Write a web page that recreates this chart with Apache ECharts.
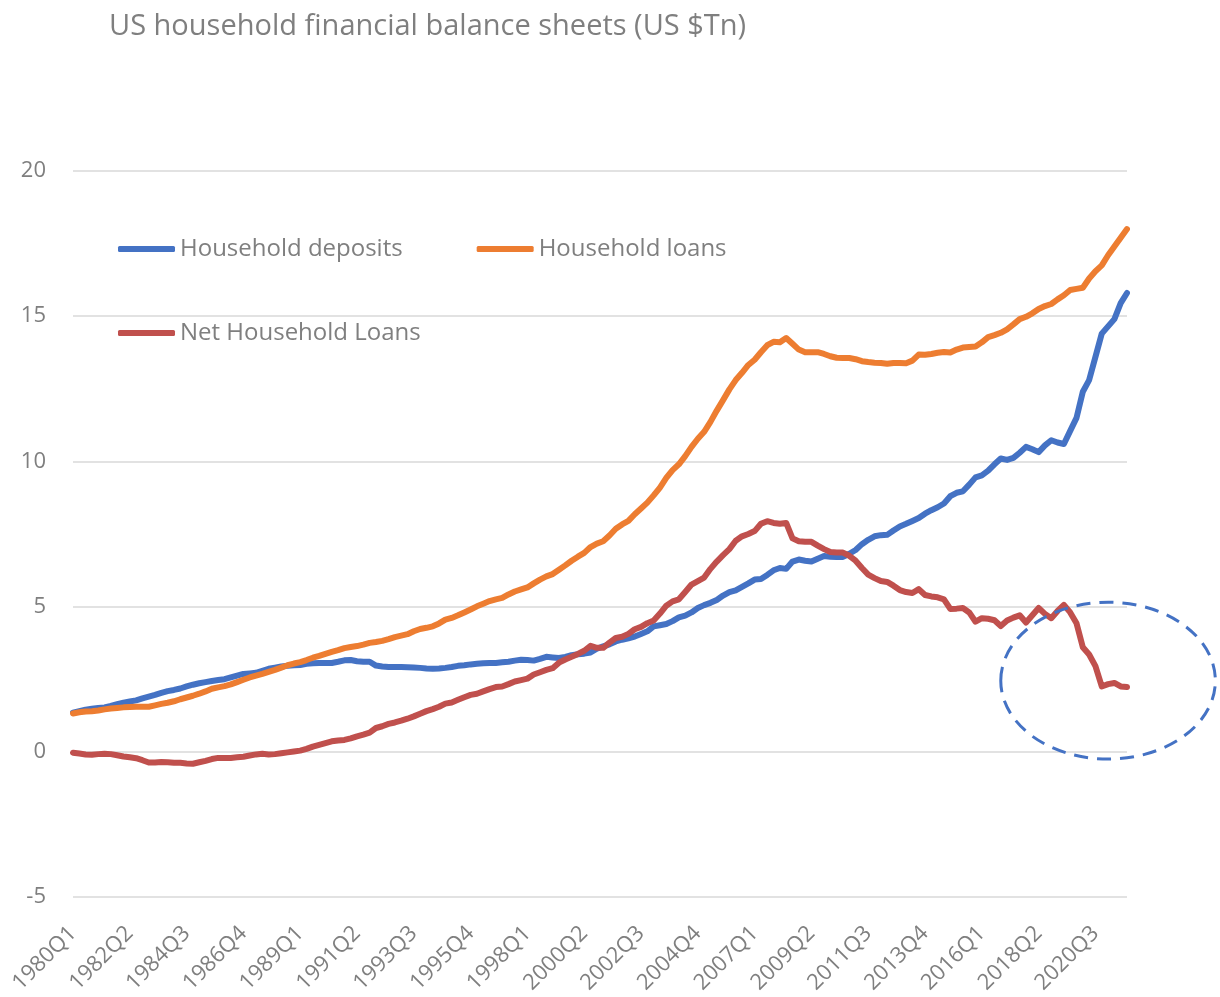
<!DOCTYPE html>
<html>
<head>
<meta charset="utf-8">
<script src="https://cdn.jsdelivr.net/npm/echarts@6/dist/echarts.min.js"></script>
<style>
  html, body { margin: 0; padding: 0; background: #fff; }
  #chart { width: 1220px; height: 997px; }
</style>
</head>
<body>
<div id="chart"></div>
<script>
// quarters 1980Q1 .. 2021Q4
const quarters = [];
for (let y = 1980; y <= 2021; y++) {
  for (let q = 1; q <= 4; q++) {
    quarters.push(y + "Q" + q);
  }
}

const deposits = [
  1.35, 1.40, 1.45, 1.48, 1.51, 1.53, 1.58, 1.64, 1.69, 1.73, 1.77, 1.84, 1.90, 1.96, 2.03, 2.09,
  2.13, 2.18, 2.25, 2.31, 2.36, 2.40, 2.44, 2.47, 2.50, 2.56, 2.62, 2.68, 2.70, 2.72, 2.79, 2.86,
  2.90, 2.94, 2.96, 2.98, 2.99, 3.03, 3.05, 3.06, 3.06, 3.06, 3.10, 3.15, 3.16, 3.12, 3.10, 3.10,
  2.97, 2.94, 2.92, 2.92, 2.92, 2.91, 2.90, 2.89, 2.87, 2.86, 2.87, 2.89, 2.92, 2.96, 2.98, 3.01,
  3.03, 3.05, 3.06, 3.06, 3.08, 3.10, 3.14, 3.17, 3.16, 3.14, 3.20, 3.27, 3.25, 3.23, 3.27, 3.33,
  3.36, 3.38, 3.42, 3.55, 3.63, 3.70, 3.80, 3.86, 3.91, 3.97, 4.06, 4.15, 4.32, 4.36, 4.40, 4.50,
  4.63, 4.69, 4.80, 4.95, 5.05, 5.13, 5.23, 5.38, 5.50, 5.56, 5.68, 5.80, 5.93, 5.95, 6.09, 6.25,
  6.33, 6.30, 6.55, 6.62, 6.58, 6.55, 6.65, 6.74, 6.72, 6.71, 6.71, 6.82, 6.95, 7.15, 7.30, 7.42,
  7.46, 7.47, 7.62, 7.76, 7.85, 7.95, 8.05, 8.20, 8.32, 8.42, 8.55, 8.80, 8.92, 8.97, 9.20, 9.45,
  9.52, 9.68, 9.90, 10.10, 10.05, 10.12, 10.30, 10.50, 10.42, 10.32, 10.55, 10.73, 10.65, 10.60, 11.05, 11.50,
  12.40, 12.80, 13.60, 14.40, 14.65, 14.90, 15.45, 15.80
];

const loans = [
  1.32, 1.36, 1.39, 1.40, 1.42, 1.46, 1.49, 1.51, 1.53, 1.54, 1.55, 1.55, 1.55, 1.60, 1.65, 1.69,
  1.74, 1.81, 1.87, 1.93, 2.00, 2.08, 2.17, 2.22, 2.26, 2.32, 2.40, 2.48, 2.56, 2.62, 2.68, 2.75,
  2.82, 2.90, 2.98, 3.04, 3.09, 3.16, 3.24, 3.30, 3.37, 3.44, 3.50, 3.57, 3.61, 3.64, 3.69, 3.75,
  3.78, 3.82, 3.88, 3.95, 4.00, 4.05, 4.15, 4.23, 4.27, 4.32, 4.42, 4.55, 4.61, 4.70, 4.80, 4.90,
  5.01, 5.10, 5.19, 5.25, 5.30, 5.42, 5.52, 5.59, 5.66, 5.80, 5.93, 6.04, 6.12, 6.27, 6.42, 6.58,
  6.72, 6.85, 7.05, 7.17, 7.25, 7.45, 7.68, 7.83, 7.95, 8.18, 8.38, 8.58, 8.83, 9.10, 9.43, 9.70,
  9.90, 10.18, 10.50, 10.78, 11.02, 11.36, 11.75, 12.11, 12.48, 12.80, 13.05, 13.32, 13.50, 13.76, 14.00, 14.12,
  14.10, 14.25, 14.05, 13.85, 13.76, 13.76, 13.76, 13.70, 13.62, 13.57, 13.56, 13.56, 13.52, 13.45, 13.42, 13.40,
  13.39, 13.36, 13.39, 13.39, 13.38, 13.47, 13.68, 13.67, 13.70, 13.74, 13.77, 13.75, 13.85, 13.92, 13.94, 13.96,
  14.10, 14.28, 14.35, 14.43, 14.55, 14.72, 14.90, 14.98, 15.10, 15.25, 15.35, 15.42, 15.58, 15.72, 15.90, 15.94,
  15.98, 16.30, 16.55, 16.75, 17.10, 17.40, 17.70, 18.00
];

const netLoans = [
  -0.03, -0.06, -0.09, -0.10, -0.08, -0.07, -0.08, -0.12, -0.16, -0.19, -0.22, -0.29, -0.37, -0.37, -0.35, -0.36,
  -0.38, -0.38, -0.40, -0.41, -0.36, -0.31, -0.25, -0.21, -0.21, -0.21, -0.19, -0.17, -0.13, -0.09, -0.07, -0.09,
  -0.08, -0.05, -0.02, 0.01, 0.04, 0.10, 0.18, 0.24, 0.30, 0.36, 0.39, 0.41, 0.46, 0.53, 0.59, 0.66,
  0.82, 0.88, 0.96, 1.01, 1.07, 1.14, 1.22, 1.31, 1.40, 1.47, 1.55, 1.66, 1.70, 1.79, 1.88, 1.96,
  2.00, 2.08, 2.16, 2.23, 2.25, 2.33, 2.42, 2.47, 2.52, 2.66, 2.74, 2.82, 2.88, 3.07, 3.18, 3.27,
  3.37, 3.48, 3.65, 3.58, 3.58, 3.76, 3.92, 3.96, 4.06, 4.22, 4.30, 4.43, 4.52, 4.76, 5.03, 5.18,
  5.25, 5.50, 5.76, 5.88, 6.00, 6.30, 6.55, 6.77, 6.98, 7.27, 7.42, 7.50, 7.60, 7.85, 7.94, 7.88,
  7.85, 7.88, 7.35, 7.25, 7.23, 7.23, 7.10, 6.98, 6.88, 6.86, 6.86, 6.75, 6.58, 6.33, 6.10, 5.98,
  5.88, 5.85, 5.72, 5.57, 5.50, 5.47, 5.60, 5.40, 5.35, 5.32, 5.25, 4.92, 4.93, 4.95, 4.80, 4.48,
  4.60, 4.58, 4.53, 4.33, 4.52, 4.62, 4.70, 4.45, 4.70, 4.95, 4.75, 4.60, 4.85, 5.06, 4.80, 4.43,
  3.60, 3.35, 2.95, 2.25, 2.33, 2.37, 2.25, 2.23
];

const textColor = "#7f7f7f";
const fontFamily = "Open Sans";

const chart = echarts.init(document.getElementById("chart"));

const lineSeries = (name, data, color) => ({
  name: name,
  type: "line",
  data: data,
  symbol: "none",
  lineStyle: { width: 6, color: color, cap: "round", join: "round" },
  itemStyle: { color: color },
  animation: false,
});

const legendText = { color: textColor, fontSize: 24, fontFamily: fontFamily };

const option = {
  backgroundColor: "#fff",
  textStyle: { fontFamily: fontFamily },
  title: {
    text: "US household financial balance sheets (US $Tn)",
    left: 104,
    top: 7,
    textStyle: {
      color: textColor,
      fontSize: 29,
      fontWeight: "normal",
      fontFamily: fontFamily,
    },
  },
  grid: {
    left: 73,
    right: 93,
    top: 171,
    bottom: 100,
    containLabel: false,
    outerBoundsMode: "none",
  },
  legend: [
    {
      data: ["Household deposits", "Household loans"],
      left: 118,
      top: 237,
      padding: 0,
      icon: "roundRect",
      itemWidth: 57,
      itemHeight: 6,
      itemGap: 74,
      textStyle: legendText,
    },
    {
      data: ["Net Household Loans"],
      left: 118,
      top: 321,
      padding: 0,
      icon: "roundRect",
      itemWidth: 57,
      itemHeight: 6,
      textStyle: legendText,
    },
  ],
  xAxis: {
    type: "category",
    data: quarters,
    boundaryGap: false,
    axisLine: { show: false, onZero: false },
    axisTick: { show: false },
    axisLabel: {
      interval: 8,
      rotate: 45,
      margin: 33,
      color: textColor,
      fontSize: 22,
      fontFamily: fontFamily,
    },
    splitLine: { show: false },
  },
  yAxis: {
    type: "value",
    min: -5,
    max: 20,
    interval: 5,
    axisLine: { show: false },
    axisTick: { show: false },
    axisLabel: {
      margin: 27,
      color: textColor,
      fontSize: 22,
      fontFamily: fontFamily,
    },
    splitLine: { lineStyle: { color: "#d9d9d9", width: 1.5 } },
  },
  series: [
    lineSeries("Household deposits", deposits, "#4472c4"),
    lineSeries("Household loans", loans, "#ed7d31"),
    lineSeries("Net Household Loans", netLoans, "#c0504d"),
  ],
};

chart.setOption(option);

// dashed ellipse highlighting the recent drop in net loans
const center = chart.convertToPixel({ gridIndex: 0 }, [164, 2.45]);
const edge = chart.convertToPixel({ gridIndex: 0 }, [147, 5.15]);
chart.setOption({
  graphic: [
    {
      type: "ellipse",
      shape: {
        cx: center[0],
        cy: center[1],
        rx: Math.abs(center[0] - edge[0]),
        ry: Math.abs(center[1] - edge[1]),
      },
      style: {
        fill: null,
        stroke: "#4472c4",
        lineWidth: 3,
        lineDash: [14, 9],
      },
      z: 10,
    },
  ],
});
</script>
</body>
</html>
